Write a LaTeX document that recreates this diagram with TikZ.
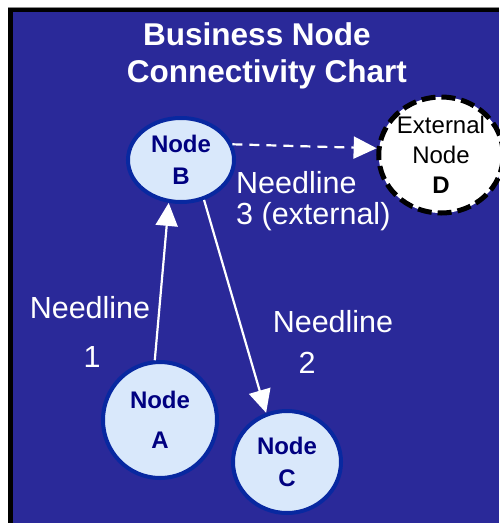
\documentclass[tikz,border=0pt]{standalone}
\usepackage{fontspec}
\setmainfont{Liberation Sans}
\usetikzlibrary{shapes.geometric,arrows.meta}
\definecolor{chartbg}{RGB}{42,41,153}
\definecolor{nodefill}{RGB}{217,232,251}
\definecolor{nodeedge}{RGB}{8,40,160}
\definecolor{nodetext}{RGB}{0,0,128}
\tikzset{
  biznode/.style={ellipse,fill=nodefill,draw=nodeedge,line width=4pt,inner sep=0pt,
    text=nodetext,font=\fontsize{24}{32}\selectfont\bfseries,align=center},
  extnode/.style={ellipse,fill=white,draw=black,line width=5pt,dash pattern=on 14pt off 6pt,
    inner sep=0pt,text=black,font=\fontsize{24}{30}\selectfont,align=center},
  link/.style={draw=white,line width=2.2pt,-{Triangle[length=23pt,width=22pt]}},
  title/.style={text=white,font=\fontsize{31.5}{37}\selectfont\bfseries,anchor=base,inner sep=0pt},
  lbl/.style={text=white,font=\fontsize{30.5}{32}\selectfont,inner sep=0pt}
}
\begin{document}
\begin{tikzpicture}[x=1pt,y=-1pt]
\useasboundingbox (0,0) rectangle (499,523);
% frame and background
\fill[white] (0,0) rectangle (499,523);
\fill[black!45] (8,7) rectangle (499,8);
\fill[black] (8,8) rectangle (499,523);
\fill[chartbg] (13,12) rectangle (499,523);
% title
\node[title] (t1) at (257,45) {Business Node};
\node[title] (t2) at (267,82) {Connectivity Chart};
% nodes
\node[biznode,minimum width=106pt,minimum height=84pt] (B) at (181,160) {Node\\B};
\node[biznode,minimum width=114pt,minimum height=116pt] (A) at (160,420) {Node\\[8pt]A};
\node[biznode,minimum width=108pt,minimum height=102pt] (C) at (287,462) {Node\\C};
\node[extnode,minimum width=110pt,minimum height=116pt] (D) at (441,155) {External\\Node\\\textbf{D}};
% needlines
\draw[link] (A.95) -- (B.-106);
\draw[link] (B.-60) -- (C.113);
\draw[link,dash pattern=on 10pt off 7pt] (B.17) -- (D.174);
% needline labels
\node[lbl,anchor=base west] (l3a) at (236,193) {Needline};
\node[lbl,anchor=base west] (l3b) at (236,224) {3 (external)};
\node[lbl,anchor=base] (l1a) at (90,318) {Needline};
\node[lbl,anchor=base] (l1b) at (92,367) {1};
\node[lbl,anchor=base] (l2a) at (333,332) {Needline};
\node[lbl,anchor=base] (l2b) at (307,373) {2};
\end{tikzpicture}
\end{document}
